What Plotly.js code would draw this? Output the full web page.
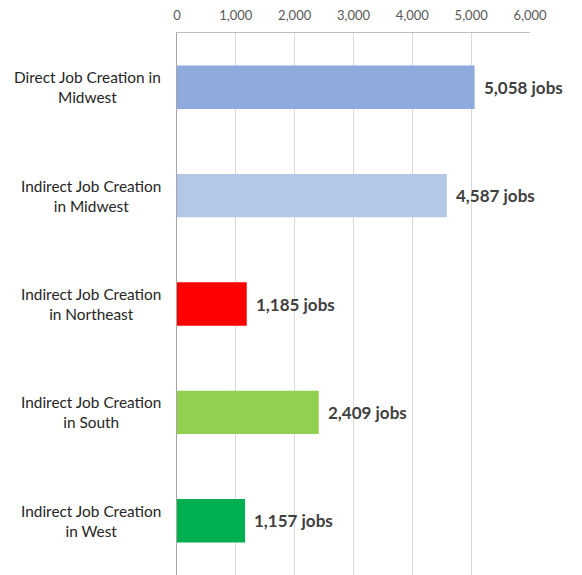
<!DOCTYPE html>
<html><head><meta charset="utf-8">
<script src="https://cdn.plot.ly/plotly-3.0.1.min.js"></script>
<style>body{margin:0;padding:0;background:#fff}#chart{width:582px;height:575px}</style>
</head><body><div id="chart"></div>
<script>
const categories = ["Direct Job Creation in<br>Midwest","Indirect Job Creation<br>in Midwest","Indirect Job Creation<br>in Northeast","Indirect Job Creation<br>in South","Indirect Job Creation<br>in West"];
const jobs = [5058, 4587, 1185, 2409, 1157];
const barColors = ["#8FAADC","#B4C7E7","#FF0000","#92D050","#00B050"];
const tickVals = [0,1000,2000,3000,4000,5000,6000];

const FONT = "Lato, 'Open Sans', sans-serif";
const valueAnn = jobs.map((v,i)=>({
  x: v, y: categories[i], xref:'x', yref:'y', xanchor:'left', xshift:7,
  text: '<b>' + v.toLocaleString('en-US') + ' jobs</b>', showarrow:false,
  font:{family:FONT,size:17,color:'#404040'}
}));
const catAnn = categories.map((c,i)=>({
  x: 0, y: c, xref:'paper', yref:'y', xanchor:'right', xshift:-14,
  text: c, align:'center', showarrow:false,
  font:{family:FONT,size:15.4,color:'#262626'}
}));

Plotly.newPlot('chart',[{
  type:'bar', orientation:'h', x: jobs, y: categories,
  marker:{color: barColors}, hoverinfo:'none'
}],{
  width:582, height:575,
  margin:{l:177, r:52, t:33, b:0},
  paper_bgcolor:'#fff', plot_bgcolor:'#fff',
  bargap:0.6, showlegend:false,
  xaxis:{side:'top', range:[0,6000], tickvals:tickVals, tickformat:',', 
    showgrid:true, gridcolor:'#D9D9D9', gridwidth:1, zeroline:false,
    showline:true, linecolor:'#BFBFBF', linewidth:1, mirror:false, ticks:'',
    ticklabelstandoff:7,
    tickfont:{family:FONT,size:13,color:'#595959'}, fixedrange:true},
  yaxis:{autorange:'reversed', showticklabels:false, ticks:'', showgrid:false,
    showline:true, linecolor:'#A6A6A6', linewidth:1, zeroline:false, fixedrange:true},
  annotations: valueAnn.concat(catAnn)
},{displayModeBar:false, staticPlot:true});
</script></body></html>
